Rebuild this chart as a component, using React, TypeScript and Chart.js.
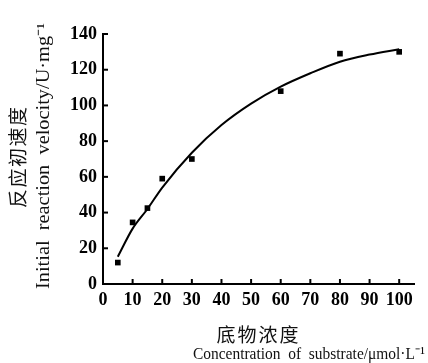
import React, { useEffect, useRef } from 'react';
import { Chart, registerables } from 'chart.js';
Chart.register(...registerables);

const concentrations = [5, 10, 15, 20, 30, 60, 80, 100];
const velocities = [12, 34.5, 42.5, 59, 70, 108, 129, 130];
const fitX = [5, 10, 15, 20, 30, 40, 50, 60, 70, 80, 90, 100];
const fitY = [15.3, 31, 42, 54, 73.5, 89, 101, 110.5, 118, 124.5, 128.5, 131.5];
const xTicks = [0, 10, 20, 30, 40, 50, 60, 70, 80, 90, 100];
const yTicks = [0, 20, 40, 60, 80, 100, 120, 140];
const yTitleCn = '反应初速度';
const yTitleEn = 'Initial  reaction  velocity/U·mg⁻¹';
const xTitleCn = '底物浓度';
const xTitleEn = 'Concentration  of  substrate/μmol·L⁻¹';

const SERIF = '"Liberation Serif", "Times New Roman", serif';
const CJK = '"Noto Sans CJK SC", sans-serif';

// draw text centered at (0,0) in current frame, stretched/compressed to a given width
function fitText(ctx: any, text: string, width: number) {
  const w = ctx.measureText(text).width;
  ctx.save();
  ctx.scale(width / w, 1);
  ctx.fillText(text, 0, 0);
  ctx.restore();
}

// draw CJK text char by char with even pitch over given length, centered at (0,0)
function spacedText(ctx: any, text: string, length: number, size: number) {
  const chars = Array.from(text);
  const pitch = (length - size) / (chars.length - 1);
  chars.forEach((c, i) => {
    ctx.fillText(c, -length / 2 + size / 2 + i * pitch, 0);
  });
}

const decorPlugin = {
  id: 'decor',
  afterDraw(chart: any) {
    const { ctx, scales } = chart;
    const x = scales.x;
    const y = scales.y;
    ctx.save();
    ctx.strokeStyle = '#000';
    ctx.lineWidth = 2;
    const y0 = y.getPixelForValue(0);
    const x0 = x.getPixelForValue(0);
    xTicks.forEach((v) => {
      if (v === 0) return;
      const px = x.getPixelForValue(v);
      ctx.beginPath();
      ctx.moveTo(px, y0);
      ctx.lineTo(px, y0 - 5);
      ctx.stroke();
    });
    yTicks.forEach((v) => {
      if (v === 0) return;
      const py = y.getPixelForValue(v);
      ctx.beginPath();
      ctx.moveTo(x0, py);
      ctx.lineTo(x0 + 5, py);
      ctx.stroke();
    });
    ctx.fillStyle = '#111';
    ctx.textBaseline = 'middle';
    ctx.textAlign = 'center';
    // y titles (rotated)
    ctx.save();
    ctx.translate(17.5, 157.5);
    ctx.rotate(-Math.PI / 2);
    ctx.font = '19px ' + CJK;
    spacedText(ctx, yTitleCn, 101, 19);
    ctx.restore();
    ctx.save();
    ctx.translate(44, 156);
    ctx.rotate(-Math.PI / 2);
    ctx.font = '18px ' + SERIF;
    fitText(ctx, yTitleEn, 266);
    ctx.restore();
    // x titles
    ctx.save();
    ctx.translate(257.5, 335);
    ctx.font = '19px ' + CJK;
    spacedText(ctx, xTitleCn, 82, 19);
    ctx.restore();
    ctx.save();
    ctx.translate(309, 355);
    ctx.font = '17px ' + SERIF;
    fitText(ctx, xTitleEn, 232);
    ctx.restore();
    ctx.restore();
  },
};

export default function App() {
  const ref = useRef<HTMLCanvasElement>(null);
  useEffect(() => {
    document.body.style.margin = '0';
    const chart = new Chart(ref.current!, {
      type: 'scatter',
      data: {
        datasets: [
          {
            data: fitX.map((v, i) => ({ x: v, y: fitY[i] })),
            showLine: true,
            borderColor: '#000',
            borderWidth: 2,
            pointRadius: 0,
            cubicInterpolationMode: 'monotone',
            fill: false,
          },
          {
            data: concentrations.map((v, i) => ({ x: v, y: velocities[i] })),
            showLine: false,
            pointStyle: 'rect',
            pointRadius: 4,
            backgroundColor: '#000',
            borderColor: '#000',
            borderWidth: 0,
          },
        ],
      } as any,
      options: {
        responsive: false,
        animation: false,
        layout: { padding: { left: 0, top: 34, right: 14, bottom: 0 } },
        plugins: { legend: { display: false }, tooltip: { enabled: false } },
        scales: {
          x: {
            type: 'linear',
            min: 0,
            max: 105,
            grid: { display: false, drawTicks: false },
            border: { display: true, color: '#000', width: 2 },
            ticks: {
              stepSize: 10,
              includeBounds: false,
              color: '#000',
              padding: 6,
              maxRotation: 0,
              autoSkip: false,
              font: { family: SERIF, size: 18, weight: 'bold' },
            },
            afterFit: (s: any) => {
              s.height = 79;
            },
          },
          y: {
            type: 'linear',
            min: 0,
            max: 140,
            grid: { display: false, drawTicks: false },
            border: { display: true, color: '#000', width: 2 },
            ticks: {
              stepSize: 20,
              color: '#000',
              padding: 6,
              font: { family: SERIF, size: 18, weight: 'bold' },
            },
            afterFit: (s: any) => {
              s.width = 103;
            },
          },
        },
      } as any,
      plugins: [decorPlugin],
    });
    return () => chart.destroy();
  }, []);
  return <canvas ref={ref} width={428} height={363} />;
}
